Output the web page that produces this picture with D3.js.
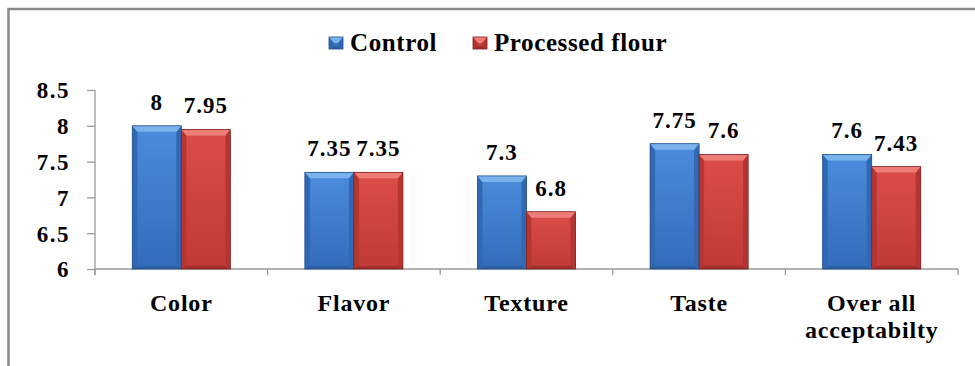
<!DOCTYPE html>
<html>
<head>
<meta charset="utf-8">
<script src="https://cdn.jsdelivr.net/npm/d3@7"></script>
<style>
  html, body { margin: 0; padding: 0; background: #fff; }
  svg { display: block; }
</style>
</head>
<body>
<svg id="chart" width="975" height="366"></svg>
<script>
// Sensory scores: control vs. processed flour
const categories = ["Color", "Flavor", "Texture", "Taste", "Over all acceptabilty"];
const seriesNames = ["Control", "Processed flour"];
const control = [8, 7.35, 7.3, 7.75, 7.6];
const processed = [7.95, 7.35, 6.8, 7.6, 7.43];
const valueLabels = [["8", "7.35", "7.3", "7.75", "7.6"], ["7.95", "7.35", "6.8", "7.6", "7.43"]];
const yTicks = [6, 6.5, 7, 7.5, 8, 8.5];
const yTickLabels = ["6", "6.5", "7", "7.5", "8", "8.5"];

const series = [control, processed];

const svg = d3.select("#chart");
const W = 975, H = 366;
const plot = { left: 95, right: 958, top: 90, bottom: 269 };

// Apply the serif bold face on a text selection
function serif(sel, size, spacing) {
  return sel.attr("font-family", "Liberation Serif")
    .style("font-family", "'Liberation Serif'").style("font-weight", "bold")
    .style("font-size", size + "px").style("letter-spacing", spacing + "px").style("fill", "#000");
}

// Outer frame (top and left edges visible)
svg.append("path")
  .attr("d", `M8.5,${H} L8.5,9 L${W},9`)
  .attr("fill", "none").attr("stroke", "#8a8a8a").attr("stroke-width", 2.5);

// Bevel palettes
const palettes = [
  { top: "#7ab2ee", bodyA: "#4b8cdc", bodyB: "#336cbb", side: "#3068b4", bottom: "#2c5ea3", stroke: "#22508c" },
  { top: "#ee7d78", bodyA: "#dc4d48", bodyB: "#c03a36", side: "#b43532", bottom: "#a22f2c", stroke: "#7c2321" }
];

const defs = svg.append("defs");
palettes.forEach((p, i) => {
  const g = defs.append("linearGradient").attr("id", "body" + i)
    .attr("x1", 0).attr("y1", 0).attr("x2", 0).attr("y2", 1);
  g.append("stop").attr("offset", "0%").attr("stop-color", p.bodyA);
  g.append("stop").attr("offset", "100%").attr("stop-color", p.bodyB);
});

const x0 = d3.scaleBand().domain(categories).range([plot.left, plot.right]).paddingInner(0).paddingOuter(0);
const groupFrac = 0.568;
const x1 = d3.scaleBand().domain(seriesNames).range([0, x0.bandwidth() * groupFrac]).padding(0);
const groupOffset = x0.bandwidth() * (1 - groupFrac) / 2;
const y = d3.scaleLinear().domain([6, 8.5]).range([plot.bottom, plot.top]);

// Y axis
const axisColor = "#9a9a9a";
const yAxis = svg.append("g").attr("transform", `translate(${plot.left},0)`)
  .call(d3.axisLeft(y).tickValues(yTicks).tickFormat((d, i) => yTickLabels[i]).tickSize(8).tickPadding(17));
yAxis.attr("font-family", null);
yAxis.select(".domain").remove();
yAxis.append("line").attr("x1", 0).attr("x2", 0).attr("y1", plot.top).attr("y2", plot.bottom + 6)
  .attr("stroke", axisColor).attr("stroke-width", 1.3);
yAxis.selectAll(".tick line").attr("stroke", axisColor).attr("stroke-width", 1.3);
serif(yAxis.selectAll(".tick text"), 23, 1.5).attr("dy", "0.34em");

// X axis
const xAxis = svg.append("g").attr("transform", `translate(0,${plot.bottom})`);
xAxis.append("line").attr("x1", plot.left).attr("x2", plot.right).attr("y1", 0).attr("y2", 0)
  .attr("stroke", axisColor).attr("stroke-width", 1.3);
const boundaries = categories.map(c => x0(c)).concat([plot.right]);
xAxis.selectAll("line.tk").data(boundaries).join("line").attr("class", "tk")
  .attr("x1", d => d).attr("x2", d => d).attr("y1", 0).attr("y2", 6)
  .attr("stroke", axisColor).attr("stroke-width", 1.3);

// Category labels
categories.forEach(c => {
  const words = c === "Over all acceptabilty" ? ["Over all", "acceptabilty"] : [c];
  const cx = x0(c) + x0.bandwidth() / 2;
  const t = serif(svg.append("text").attr("x", cx).attr("y", 311).attr("text-anchor", "middle"), 24, 0.8);
  words.forEach((w, i) => t.append("tspan").attr("x", cx).attr("dy", i ? 27 : 0).text(w));
});

// Beveled bar
function bevelBar(g, x, yTop, w, h, p, idx) {
  const b = Math.min(5, h / 2), bt = Math.min(6, h / 2), bb = Math.min(3, h / 2);
  const yb = yTop + h;
  g.append("rect").attr("x", x).attr("y", yTop).attr("width", w).attr("height", h).attr("fill", `url(#body${idx})`);
  g.append("polygon").attr("points", [[x, yTop], [x + b, yTop + bt], [x + b, yb - bb], [x, yb]].join(" ")).attr("fill", p.side);
  g.append("polygon").attr("points", [[x + w, yTop], [x + w - b, yTop + bt], [x + w - b, yb - bb], [x + w, yb]].join(" ")).attr("fill", p.side);
  g.append("polygon").attr("points", [[x, yTop], [x + w, yTop], [x + w - b, yTop + bt], [x + b, yTop + bt]].join(" ")).attr("fill", p.top);
  g.append("polygon").attr("points", [[x, yb], [x + w, yb], [x + w - b, yb - bb], [x + b, yb - bb]].join(" ")).attr("fill", p.bottom);
  g.append("rect").attr("x", x).attr("y", yTop).attr("width", w).attr("height", h)
    .attr("fill", "none").attr("stroke", p.stroke).attr("stroke-width", 0.8);
}

const bars = svg.append("g");
categories.forEach((c, ci) => {
  series.forEach((vals, si) => {
    const bx = x0(c) + groupOffset + x1(seriesNames[si]);
    const bw = x1.bandwidth();
    const top = y(vals[ci]);
    bevelBar(bars, bx, top, bw, plot.bottom - top, palettes[si], si);
    serif(svg.append("text"), 23, 1)
      .attr("x", bx + bw / 2).attr("y", top - 16)
      .attr("text-anchor", "middle")
      .text(valueLabels[si][ci]);
  });
});

// Legend
const legend = svg.append("g");
const legendItems = [{ name: seriesNames[0], x: 329 }, { name: seriesNames[1], x: 473 }];
legendItems.forEach((it, i) => {
  bevelBar(legend, it.x, 37, 14, 12, palettes[i], i);
  serif(legend.append("text"), 25, 0.6).attr("x", it.x + 21).attr("y", 51).text(it.name);
});
</script>
</body>
</html>
